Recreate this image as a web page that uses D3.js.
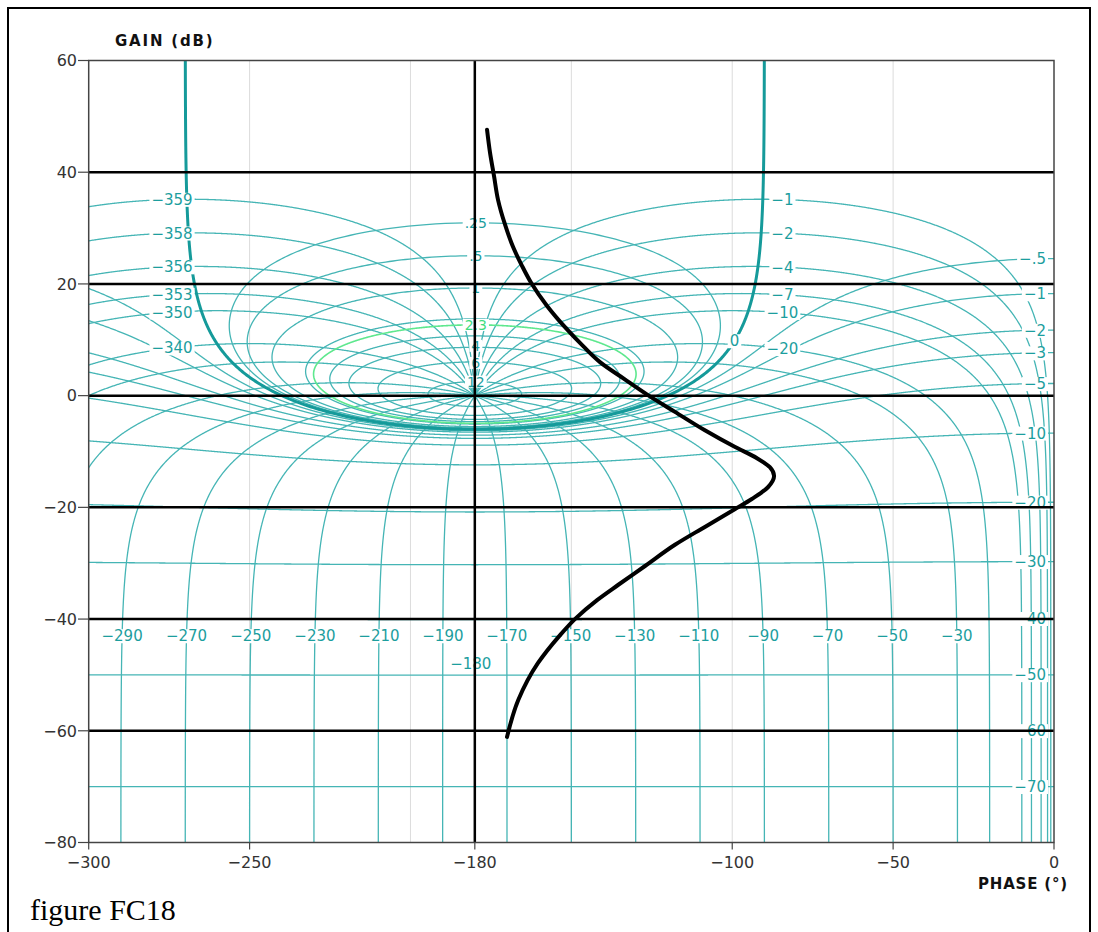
<!DOCTYPE html>
<html><head><meta charset="utf-8">
<script src="https://cdn.jsdelivr.net/npm/d3@7"></script>
<style>body{margin:0;background:#fff;} svg{display:block;}</style>
</head><body>
<svg id="chart" width="1098" height="932"></svg>
<script>
// ---------- data ----------
const xTicks = [-300, -250, -180, -100, -50, 0];
const yTicks = [60, 40, 20, 0, -20, -40, -60, -80];
const blackGainLines = [40, 20, 0, -20, -40, -60];
const blackPhaseLines = [-180];
const grayPhaseLines = [-250, -200, -150, -100, -50];

// closed-loop magnitude contours (dB)
const mPositive = [0.25, 0.5, 1, 2, 3, 4, 6, 12];
const mPositiveLabels = [".25", ".5", "1", "", "", "4", "6", "12"];
const mHighlight = 2.3;
const mHighlightLabel = "2.3";
const mNegative = [-0.5, -1, -2, -3, -5, -10, -20, -30, -40, -50, -60, -70];
const mNegativeLabels = ["−.5", "−1", "−2", "−3", "−5", "−10", "−20", "−30", "−40", "−50", "−60", "−70"];

// closed-loop phase contours (deg)
const nLevels = [-1, -2, -4, -7, -10, -20, -30, -50, -70, -90, -110, -130, -150, -170, -180,
  -190, -210, -230, -250, -270, -290, -310, -330, -340, -350, -353, -356, -358, -359];
const nRightLabels = [-1, -2, -4, -7, -10, -20];
const nLeftLabels = [-359, -358, -356, -353, -350, -340];
const nBottomLabels = [-290, -270, -250, -230, -210, -190, -170, -150, -130, -110, -90, -70, -50, -30];

// open-loop response (phase deg, gain dB)
const curvePhase = [-176.2, -175.3, -174.0, -172.8, -170.6, -168.1, -165.3, -162.5, -157.6, -151.4,
  -146.4, -141.1, -133.6, -126.2, -117.8, -108.5, -99.1, -92.3, -88.3, -87.0, -88.9, -93.9, -99.1,
  -108.5, -117.8, -127.1, -135.5, -142.0, -148.9, -153.7, -160.4, -166.5, -170.0];
const curveGain = [47.6, 43.6, 39.2, 35.1, 30.6, 26.6, 23.2, 20.2, 16.1, 11.9,
  8.9, 6.0, 3.0, 0.1, -2.9, -6.2, -9.2, -11.2, -12.8, -14.4, -16.4, -18.5, -20.3,
  -23.5, -26.7, -30.5, -33.9, -36.6, -40.0, -43.0, -47.9, -54.5, -61.1];

// ---------- setup ----------
const svg = d3.select("#chart");
const X0 = 88.7, X1 = 1054, Y0 = 60.5, Y1 = 842.5;
const x = d3.scaleLinear().domain([-300, 0]).range([X0, X1]);
const y = d3.scaleLinear().domain([60, -80]).range([Y0, Y1]);
const rad = Math.PI / 180;
const TEAL = "#45b5b5", TEAL_TXT = "#1c9e9e", TEAL_DARK = "#159a9a", GREEN = "#5ee88e";
const FONT = "DejaVu Sans, Verdana, sans-serif";

svg.append("rect").attr("width", 1098).attr("height", 932).attr("fill", "#fff");
svg.append("rect").attr("x", 8).attr("y", 8).attr("width", 1082).attr("height", 960)
  .attr("fill", "none").attr("stroke", "#000").attr("stroke-width", 2);

svg.append("defs").append("clipPath").attr("id", "plotclip")
  .append("rect").attr("x", X0).attr("y", Y0).attr("width", X1 - X0).attr("height", Y1 - Y0);

const line = d3.line().x(d => x(d[0])).y(d => y(d[1]));

// gray dotted grid
svg.append("g").selectAll("line").data(grayPhaseLines).join("line")
  .attr("x1", d => x(d)).attr("x2", d => x(d)).attr("y1", Y0).attr("y2", Y1)
  .attr("stroke", "#b8b8b8").attr("stroke-width", 1).attr("stroke-dasharray", "1,1");

// ---------- Nichols grid math ----------
function mContour(dB) {
  const m = Math.pow(10, dB / 20), pts = [], N = 4000;
  for (let i = 0; i <= N; i++) {
    const th = -i / N * 2 * Math.PI;
    const Tr = m * Math.cos(th), Ti = m * Math.sin(th);
    const Dr = 1 - Tr, Di = -Ti, den = Dr * Dr + Di * Di;
    const Gr = (Tr * Dr + Ti * Di) / den, Gi = (Ti * Dr - Tr * Di) / den;
    let ph = Math.atan2(Gi, Gr) / rad; if (ph > 0) ph -= 360;
    pts.push([ph, 20 * Math.log10(Math.hypot(Gr, Gi))]);
  }
  return pts;
}
function mZeroContour() {
  const offs = [];
  for (let e = -4; e <= Math.log10(90); e += 0.01) offs.push(Math.pow(10, e));
  offs.push(90);
  const pts = [];
  offs.forEach(d => pts.push(-90 - d));
  offs.slice().reverse().forEach(d => pts.push(-270 + d));
  return pts.map(p => [p, 20 * Math.log10(-1 / (2 * Math.cos(p * rad)))]);
}
function mGainAt(dB, phi) { // m<1 single branch
  const m = Math.pow(10, dB / 20), m2 = m * m, c = Math.cos(phi * rad);
  const g = (m2 * c + Math.sqrt(m2 * m2 * c * c + (1 - m2) * m2)) / (1 - m2);
  return 20 * Math.log10(g);
}
function nContour(psi) {
  if (psi === -180) return [[-180, 0], [-180, -200]];
  const a = -psi, sa = Math.sin(a * rad), sgn = a < 180 ? 1 : -1, span = Math.abs(180 - a);
  const offs = [];
  for (let e = -6; e < Math.log10(span); e += 0.02) offs.push(Math.pow(10, e));
  for (let d = 0.2; d < span; d += 0.2) offs.push(d);
  offs.push(span - 1e-6);
  offs.sort((p, q) => p - q);
  return offs.map(d => {
    const b = a + sgn * d;
    return [-b, 20 * Math.log10(Math.sin((b - a) * rad) / sa)];
  });
}
function nGainAt(psi, phi) {
  const a = -psi, b = -phi;
  return 20 * Math.log10(Math.sin((b - a) * rad) / Math.sin(a * rad));
}
function nPhaseAtGain(psi, gdB) {
  const a = -psi, sa = Math.sin(a * rad);
  const b = a + Math.asin(sa * Math.pow(10, gdB / 20)) / rad;
  return -b;
}

// ---------- contours ----------
const grid = svg.append("g").attr("clip-path", "url(#plotclip)").attr("fill", "none");
grid.selectAll("path.n").data(nLevels).join("path").attr("class", "n")
  .attr("d", d => line(nContour(d))).attr("stroke", TEAL).attr("stroke-width", 1.3);
grid.selectAll("path.mp").data(mPositive.concat(mNegative)).join("path").attr("class", "mp")
  .attr("d", d => line(mContour(d))).attr("stroke", TEAL).attr("stroke-width", 1.3);
grid.append("path").attr("d", line(mZeroContour())).attr("stroke", TEAL_DARK).attr("stroke-width", 3);
grid.append("path").attr("d", line(mContour(mHighlight))).attr("stroke", GREEN).attr("stroke-width", 1.6);

// ---------- labels with white backgrounds ----------
const labG = svg.append("g");
function label(txt, cx, cy, color, anchor, size) {
  if (!txt) return;
  const g = labG.append("g");
  const t = g.append("text").attr("x", cx).attr("y", cy).attr("dy", "0.36em")
    .attr("text-anchor", anchor || "middle").attr("font-family", FONT).attr("font-size", size || 15)
    .attr("fill", color).text(txt);
  const bb = t.node().getBBox();
  g.insert("rect", "text").attr("x", bb.x - 2).attr("y", bb.y + 2).attr("width", bb.width + 4)
    .attr("height", bb.height - 4).attr("fill", "#fff");
}
const centerNudge = [0, 0, 0, 0, 0, -1.5, 1, 0];
mPositive.forEach((d, i) => {
  const m = Math.pow(10, d / 20);
  label(mPositiveLabels[i], x(-180) + 1, y(20 * Math.log10(m / (m - 1))) + centerNudge[i], TEAL_TXT, "middle", 14);
});
{
  const m = Math.pow(10, mHighlight / 20);
  label(mHighlightLabel, x(-180) + 1, y(20 * Math.log10(m / (m - 1))), "#3fdc7e", "middle", 14);
}
label("0", x(-99.3), y(20 * Math.log10(-1 / (2 * Math.cos(-99.3 * rad)))), TEAL_TXT);
mNegative.forEach((d, i) => label(mNegativeLabels[i], 1046, y(mGainAt(d, -7.2)), TEAL_TXT, "end"));
nRightLabels.forEach(p => label(String(p).replace("-", "−"), x(-84.4), y(nGainAt(p, -84.4)), TEAL_TXT));
nLeftLabels.forEach(p => label(String(p).replace("-", "−"), x(-274.1), y(nGainAt(p, -274.1)), TEAL_TXT));
nBottomLabels.forEach(p => label(String(p).replace("-", "−"), x(nPhaseAtGain(p, -43)), y(-43), TEAL_TXT));
label("−180", x(-180) - 4, y(-47.9), TEAL_TXT);

// ---------- black grid lines ----------
svg.append("g").selectAll("line").data(blackGainLines).join("line")
  .attr("x1", X0).attr("x2", X1).attr("y1", d => y(d)).attr("y2", d => y(d))
  .attr("stroke", "#000").attr("stroke-width", 2.5);
svg.append("g").selectAll("line").data(blackPhaseLines).join("line")
  .attr("x1", d => x(d)).attr("x2", d => x(d)).attr("y1", Y0).attr("y2", Y1)
  .attr("stroke", "#000").attr("stroke-width", 2.5);

// ---------- frame, ticks ----------
svg.append("rect").attr("x", X0).attr("y", Y0).attr("width", X1 - X0).attr("height", Y1 - Y0)
  .attr("fill", "none").attr("stroke", "#444").attr("stroke-width", 1.5);
const ax = svg.append("g").attr("font-family", FONT).attr("font-size", 16).attr("fill", "#333");
ax.selectAll("line.yt").data(yTicks).join("line").attr("class", "yt")
  .attr("x1", 78).attr("x2", X0).attr("y1", d => y(d)).attr("y2", d => y(d))
  .attr("stroke", "#444").attr("stroke-width", 1.2);
ax.selectAll("text.yt").data(yTicks).join("text").attr("class", "yt")
  .attr("x", 77).attr("y", d => y(d)).attr("dy", "0.36em").attr("text-anchor", "end")
  .text(d => String(d).replace("-", "−"));
ax.selectAll("line.xt").data(xTicks).join("line").attr("class", "xt")
  .attr("x1", d => x(d)).attr("x2", d => x(d)).attr("y1", Y1).attr("y2", Y1 + 7)
  .attr("stroke", "#444").attr("stroke-width", 1.2);
ax.selectAll("text.xt").data(xTicks).join("text").attr("class", "xt")
  .attr("x", d => x(d)).attr("y", 862).attr("dy", "0.36em").attr("text-anchor", "middle")
  .text(d => String(d).replace("-", "−"));

svg.append("text").attr("x", 115).attr("y", 46).attr("font-family", FONT).attr("font-weight", "bold")
  .attr("font-size", 15).attr("letter-spacing", 1.8).attr("fill", "#111").text("GAIN (dB)");
svg.append("text").attr("x", 978).attr("y", 889).attr("font-family", FONT).attr("font-weight", "bold")
  .attr("font-size", 15).attr("letter-spacing", 0.8).attr("fill", "#111").text("PHASE (°)");
svg.append("text").attr("x", 30).attr("y", 920).attr("font-family", "Liberation Serif, Times New Roman, serif")
  .attr("font-size", 30).attr("fill", "#000").text("figure FC18");

// ---------- open-loop curve ----------
const curve = curvePhase.map((p, i) => [p, curveGain[i]]);
svg.append("path").attr("d", d3.line().x(d => x(d[0])).y(d => y(d[1])).curve(d3.curveMonotoneY)(curve))
  .attr("fill", "none").attr("stroke", "#000").attr("stroke-width", 4).attr("stroke-linecap", "round");
</script>
</body></html>
